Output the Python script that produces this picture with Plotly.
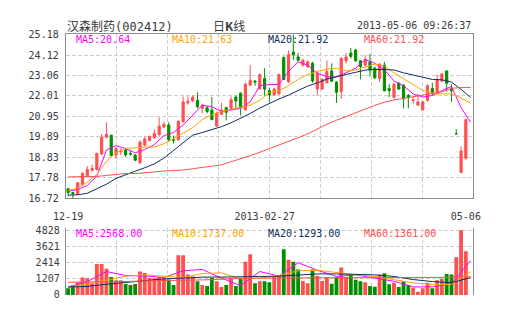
import plotly.graph_objects as go

W, H = 505, 330

# ---- trading days shown (one candle each) ----
dates = [
    "2012-12-19", "2012-12-20", "2012-12-21", "2012-12-24", "2012-12-25", "2012-12-26",
    "2012-12-27", "2012-12-28", "2012-12-31",
    "2013-01-07", "2013-01-08", "2013-01-09", "2013-01-10", "2013-01-11", "2013-01-14",
    "2013-01-15", "2013-01-16", "2013-01-17", "2013-01-18", "2013-01-21", "2013-01-22",
    "2013-01-23", "2013-01-24", "2013-01-25", "2013-01-28", "2013-01-29", "2013-01-30",
    "2013-01-31",
    "2013-02-01", "2013-02-04", "2013-02-05", "2013-02-06", "2013-02-07", "2013-02-08",
    "2013-02-18", "2013-02-19", "2013-02-20", "2013-02-21", "2013-02-22", "2013-02-25",
    "2013-02-26", "2013-02-27", "2013-02-28",
    "2013-03-01", "2013-03-04", "2013-03-05", "2013-03-06", "2013-03-07", "2013-03-08",
    "2013-03-11", "2013-03-12", "2013-03-13", "2013-03-14", "2013-03-15", "2013-03-18",
    "2013-03-19", "2013-03-20", "2013-03-21", "2013-03-22", "2013-03-25", "2013-03-26",
    "2013-03-27", "2013-03-28", "2013-03-29",
    "2013-04-01", "2013-04-02", "2013-04-03", "2013-04-08", "2013-04-09", "2013-04-10",
    "2013-04-11", "2013-04-12", "2013-04-15", "2013-04-16", "2013-04-17", "2013-04-18",
    "2013-04-19", "2013-04-22", "2013-04-23", "2013-04-24", "2013-04-25",
    "2013-05-02", "2013-05-03", "2013-05-06",
]

opens = [
    17.22, 17.02, 16.93, 17.42, 17.88, 18.16, 18.21, 19.01, 19.87, 19.98,
    18.96, 19.12, 19.21, 19.04, 18.96, 18.55, 19.46, 19.71, 19.84, 20.00,
    20.40, 20.50, 19.76, 19.74, 20.67, 21.65, 21.75, 21.78, 21.36, 21.40,
    21.28, 20.45, 21.06, 21.40, 21.36, 21.95, 22.15, 21.28, 22.56, 22.78,
    22.36, 22.91, 22.28, 22.06, 22.11, 23.99, 22.73, 24.27, 24.02, 23.60,
    23.52, 23.69, 22.36, 22.36, 22.69, 23.30, 22.72, 22.24, 23.82, 24.22,
    24.38, 23.82, 23.60, 23.77, 23.44, 22.91, 23.60, 22.39, 21.94, 22.66,
    22.56, 22.03, 21.76, 21.53, 21.28, 21.78, 22.39, 22.11, 22.77, 23.30,
    22.36, 20.05, 18.05, 18.79,
]
highs = [
    17.22, 17.05, 17.57, 18.06, 18.38, 18.46, 19.07, 20.04, 20.65, 20.00,
    19.37, 19.31, 19.31, 19.21, 19.01, 19.71, 19.91, 19.97, 20.29, 20.90,
    20.70, 20.65, 19.96, 20.75, 21.98, 21.98, 22.03, 22.19, 21.61, 21.50,
    21.95, 21.20, 21.65, 21.45, 21.98, 22.03, 22.19, 22.69, 23.60, 22.80,
    23.16, 23.44, 22.44, 22.44, 23.16, 24.05, 24.35, 25.18, 24.23, 23.94,
    23.85, 23.77, 23.27, 22.94, 23.85, 23.69, 22.77, 24.02, 24.22, 24.48,
    24.43, 23.85, 24.10, 24.18, 23.52, 23.69, 23.77, 22.61, 22.66, 22.72,
    22.61, 22.11, 21.94, 22.11, 21.73, 22.61, 22.69, 23.11, 23.19, 23.30,
    22.61, 20.29, 19.41, 20.83,
]
lows = [
    16.82, 16.72, 16.92, 17.37, 17.85, 18.11, 18.16, 18.96, 19.86, 18.91,
    18.75, 18.96, 18.86, 18.91, 18.66, 18.51, 19.41, 19.66, 19.81, 19.96,
    20.35, 19.66, 19.54, 19.71, 20.65, 21.55, 21.70, 21.36, 21.11, 21.11,
    20.74, 20.40, 21.03, 20.75, 21.35, 21.36, 21.00, 21.25, 22.54, 22.53,
    22.34, 22.03, 21.70, 22.03, 22.10, 22.84, 22.69, 23.85, 23.79, 23.52,
    23.44, 22.69, 22.03, 22.33, 22.66, 22.72, 21.65, 21.86, 23.69, 23.94,
    23.77, 22.86, 23.55, 23.02, 22.89, 22.72, 22.23, 21.94, 21.86, 22.33,
    21.36, 21.36, 21.61, 21.53, 21.25, 21.70, 22.03, 22.06, 22.72, 22.23,
    21.70, 20.05, 18.05, 18.71,
]
closes = [
    17.02, 16.96, 17.52, 18.01, 18.21, 18.26, 19.04, 19.88, 20.03, 18.92,
    19.29, 19.16, 18.96, 19.01, 18.68, 19.62, 19.79, 19.91, 20.07, 20.45,
    20.54, 19.74, 19.72, 20.70, 21.70, 21.73, 21.95, 21.45, 21.53, 21.20,
    20.79, 21.11, 21.28, 21.16, 21.81, 21.75, 21.45, 22.61, 22.81, 22.73,
    23.11, 22.36, 22.06, 22.36, 23.11, 22.86, 24.15, 24.13, 23.85, 23.85,
    23.77, 22.78, 23.19, 22.86, 23.27, 22.77, 22.19, 23.94, 24.02, 24.05,
    23.82, 23.52, 23.89, 23.35, 22.94, 23.65, 22.28, 22.28, 22.61, 22.36,
    21.86, 21.94, 21.80, 21.70, 21.70, 22.53, 22.19, 22.86, 23.14, 22.66,
    22.28, 20.05, 19.16, 20.78,
]
volumes = [
    500, 715, 950, 1310, 1240, 880, 2310, 2310, 1950, 1335,
    1095, 1095, 810, 740, 810, 1740, 1645, 1265, 1240, 1335,
    1240, 1145, 740, 2955, 2955, 1525, 1380, 1025, 740, 670,
    1265, 1025, 595, 740, 1265, 670, 1290, 2480, 3030, 880,
    1023, 1023, 952, 1333, 1452, 3403, 2618, 2475, 1904, 1047,
    880, 1904, 1428, 1047, 1333, 833, 1333, 2047, 1333, 1571,
    1142, 1023, 952, 666, 619, 1523, 1618, 809, 904, 595,
    1023, 738, 547, 238, 500, 904, 500, 1095, 1214, 1571,
    1523, 2808, 4828, 3260,
]

# ---- moving-average readings (price panel, every second bar) ----
price_ma_x = list(range(0, 85, 2))
ma5 = [17.08, 17.18, 17.38, 17.88, 19.21, 19.44, 19.29, 19.07, 19.24, 19.50,
       19.96, 20.12, 20.50, 21.03, 21.53, 21.45, 21.20, 21.28, 21.36, 21.70,
       22.53, 22.60, 22.60, 23.27, 23.77, 23.60, 23.19, 23.00, 22.98, 23.20,
       23.44, 23.89, 23.69, 23.36, 22.78, 22.53, 22.11, 21.95, 22.03, 22.28,
       22.50, 21.40, 20.64]
ma10 = [17.13, 17.25, 17.55, 17.95, 18.63, 19.07, 19.30, 19.34, 19.36, 19.37,
        19.54, 19.80, 20.10, 20.37, 20.79, 21.03, 21.20, 21.31, 21.41, 21.53,
        21.78, 22.19, 22.28, 22.53, 22.86, 23.11, 23.27, 23.39, 23.44, 23.30,
        23.35, 23.49, 23.65, 23.55, 23.20, 22.90, 22.60, 22.30, 22.15, 22.11,
        22.11, 21.90, 21.63]
ma20 = [16.89, 16.90, 16.98, 17.20, 17.45, 17.75, 17.95, 18.12, 18.30, 18.50,
        18.80, 19.20, 19.60, 19.98, 20.12, 20.25, 20.42, 20.62, 20.85, 21.10,
        21.38, 21.62, 21.85, 22.05, 22.30, 22.52, 22.68, 22.88, 23.00, 23.12,
        23.25, 23.34, 23.38, 23.38, 23.35, 23.20, 23.08, 22.95, 22.86, 22.84,
        22.72, 22.35, 21.92]
ma60 = [17.83, 17.83, 17.83, 17.85, 17.90, 17.95, 18.00, 18.00, 18.03, 18.08,
        18.13, 18.15, 18.18, 18.25, 18.33, 18.38, 18.45, 18.60, 18.75, 18.92,
        19.10, 19.28, 19.48, 19.65, 19.85, 20.05, 20.30, 20.55, 20.75, 20.95,
        21.15, 21.35, 21.52, 21.68, 21.80, 21.88, 21.96, 22.05, 22.12, 22.22,
        22.40, 22.44, 22.44]

# ---- moving-average readings (volume panel, every fourth bar) ----
vol_ma_x = list(range(0, 85, 4))
vma5 = [595, 1000, 1750, 1450, 1420, 1300, 1800, 1900, 1260, 700, 1750,
        1400, 2400, 1850, 1380, 1500, 1260, 1020, 600, 600, 830, 2568]
vma10 = [550, 800, 1100, 1400, 1500, 1400, 1300, 1600, 1650, 1200, 1250,
         1450, 1800, 1850, 1650, 1500, 1380, 1150, 900, 785, 790, 1737]
vma20 = [595, 640, 800, 950, 1100, 1200, 1260, 1330, 1333, 1330, 1380,
         1400, 1500, 1570, 1570, 1560, 1500, 1380, 1150, 1000, 920, 1293]
vma60 = [950, 960, 970, 1000, 1050, 1095, 1100, 1120, 1190, 1230, 1260,
         1260, 1270, 1280, 1300, 1300, 1310, 1310, 1310, 1310, 1320, 1361]

price_ticks = [16.72, 17.78, 18.83, 19.89, 20.95, 22.01, 23.06, 24.12, 25.18]
vol_ticks = [0, 1207, 2414, 3621, 4828]
date_tick_idx = [0, 41, 83]

ma_names = ["MA5", "MA10", "MA20", "MA60"]
price_ma_last = [20.64, 21.63, 21.92, 21.92]
vol_ma_last = [2568.00, 1737.00, 1293.00, 1361.00]

stock_name = "汉森制药"
stock_code = "002412"
stamp = "2013-05-06 09:26:37"

# ---- styling ----
UP = "#ff5050"
DOWN = "#008f00"
MA_COLORS = ["#ff00ff", "#ffa500", "#0f2f5f", "#ff5050"]
BORDER = "#8c8c8c"
GRID = "#cfcfcf"
TXT = "#3a3a3a"
MONO = "DejaVu Sans Mono"

idx = list(range(len(dates)))
n_slots = len(dates) + 1
x_range = [-0.5, n_slots - 0.5]
grid_step = n_slots / 8.0
x_grid = [x_range[0] + grid_step * k for k in range(1, 8)]


def fx(px):
    return px / W


def fy(py):
    return 1 - py / H


fig = go.Figure()

fig.add_trace(go.Candlestick(
    x=idx, open=opens, high=highs, low=lows, close=closes,
    increasing=dict(line=dict(color=UP, width=1), fillcolor=UP),
    decreasing=dict(line=dict(color=DOWN, width=1), fillcolor=DOWN),
    whiskerwidth=0, showlegend=False, hoverinfo="skip",
    xaxis="x", yaxis="y",
))

for ys, c in zip([ma5, ma10, ma20, ma60], MA_COLORS):
    fig.add_trace(go.Scatter(x=price_ma_x, y=ys, mode="lines", line=dict(color=c, width=1),
                             showlegend=False, hoverinfo="skip", xaxis="x", yaxis="y"))

vol_colors = [UP if c >= o else DOWN for o, c in zip(opens, closes)]
fig.add_trace(go.Bar(x=idx, y=volumes, marker=dict(color=vol_colors, line=dict(width=0)),
                     width=0.8, showlegend=False, hoverinfo="skip", xaxis="x2", yaxis="y2"))

for ys, c in zip([vma5, vma10, vma20, vma60], MA_COLORS):
    fig.add_trace(go.Scatter(x=vol_ma_x, y=ys, mode="lines", line=dict(color=c, width=1),
                             showlegend=False, hoverinfo="skip", xaxis="x2", yaxis="y2"))

tick_font = dict(family=MONO, size=10, color=TXT)
minor_grid = dict(tickmode="array", tickvals=x_grid, showgrid=True,
                  gridcolor=GRID, griddash="4px,2px", gridwidth=1, ticks="")
box = dict(showline=True, mirror=True, linecolor=BORDER, linewidth=1)

fig.update_layout(
    width=W, height=H, margin=dict(l=0, r=0, t=0, b=0),
    paper_bgcolor="white", plot_bgcolor="white",
    boxgap=0.35, bargap=0.2,
    xaxis=dict(domain=[fx(55), fx(480)], range=x_range, tickmode="array",
               tickvals=date_tick_idx,
               ticktext=[dates[0][5:], dates[41], dates[-1][5:]],
               showgrid=False, ticks="", ticklabelstandoff=9, tickfont=tick_font,
               minor=minor_grid, rangeslider=dict(visible=False),
               zeroline=False, **box),
    yaxis=dict(domain=[fy(200), fy(30.5)], range=[price_ticks[0], price_ticks[-1]],
               tickmode="array", tickvals=price_ticks,
               ticktext=["%.2f" % v for v in price_ticks],
               showgrid=True, gridcolor=GRID, griddash="4px,2px", gridwidth=1,
               ticks="", ticklabelstandoff=4, tickfont=tick_font, zeroline=False, **box),
    xaxis2=dict(domain=[fx(55), fx(480)], range=x_range, matches="x",
                showticklabels=False, tickmode="array", tickvals=[],
                showgrid=False, ticks="", minor=minor_grid, zeroline=False, **box),
    yaxis2=dict(domain=[fy(300), fy(230.5)], range=[0, 5000],
                tickmode="array", tickvals=vol_ticks,
                ticktext=[str(v) for v in vol_ticks],
                showgrid=True, gridcolor=GRID, griddash="4px,2px", gridwidth=1,
                ticks="", ticklabelstandoff=3, tickfont=tick_font, zeroline=False, **box),
)

ann = []
ann.append(dict(x=fx(54), y=fy(21.5), xref="paper", yref="paper", xanchor="left",
                yanchor="middle", showarrow=False,
                text=stock_name + "<span style='font-family:DejaVu Sans Mono'>(" + stock_code + ")</span>",
                font=dict(family="Noto Sans CJK SC", size=12, color=TXT)))
ann.append(dict(x=fx(225), y=fy(21.5), xref="paper", yref="paper", xanchor="center",
                yanchor="middle", showarrow=False, text="日<b>K</b>线",
                font=dict(family="Noto Sans CJK SC", size=12, color=TXT)))
ann.append(dict(x=fx(480), y=fy(21.5), xref="paper", yref="paper", xanchor="right",
                yanchor="middle", showarrow=False, text=stamp,
                font=dict(family=MONO, size=10, color=TXT)))

for k, (name, val, c) in enumerate(zip(ma_names, price_ma_last, MA_COLORS)):
    ann.append(dict(x=fx(64 + 100 * k), y=fy(36), xref="paper", yref="paper",
                    xanchor="left", yanchor="middle", showarrow=False,
                    text="%s:%.2f" % (name, val), font=dict(family=MONO, size=10, color=c)))
for k, (name, val, c) in enumerate(zip(ma_names, vol_ma_last, MA_COLORS)):
    ann.append(dict(x=fx(64 + 100 * k), y=fy(236.5), xref="paper", yref="paper",
                    xanchor="left", yanchor="middle", showarrow=False,
                    text="%s:%.2f" % (name, val), font=dict(family=MONO, size=10, color=c)))

fig.update_layout(annotations=ann)
fig.write_html("out.html")
